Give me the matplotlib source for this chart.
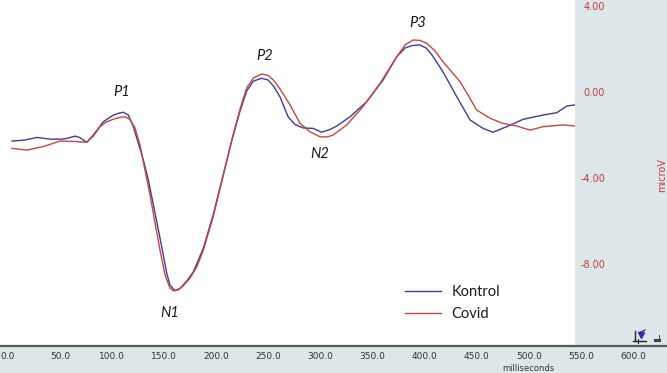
import matplotlib
matplotlib.use("Agg")
import matplotlib.pyplot as plt
from matplotlib.lines import Line2D

# ---- data ----
kontrol_t = [3.9, 16.4, 27.9, 40.4, 51.9, 56.7, 64.4, 69.2, 75.6, 82.0, 91.6, 101.2,
             106.0, 110.8, 115.6, 120.4, 125.2, 130.0, 134.8, 141.2, 147.6, 152.4,
             155.6, 160.4, 165.2, 171.6, 178.0, 187.6, 197.2, 206.8, 214.8, 222.8,
             229.2, 235.6, 243.6, 249.7, 254.8, 261.2, 268.9, 275.6, 283.3, 292.9,
             301.2, 309.2, 315.6, 328.4, 344.4, 360.1, 373.2, 381.2, 387.9, 395.6,
             401.3, 407.1, 417.6, 430.8, 443.6, 456.0, 465.6, 478.8, 494.4, 513.6,
             526.8, 536.4, 544.3]
kontrol_v = [-2.28, -2.23, -2.11, -2.19, -2.19, -2.16, -2.05, -2.12, -2.34, -2.00, -1.38, -1.07,
             -0.99, -0.94, -1.07, -1.61, -2.39, -3.16, -4.09, -5.63, -7.19, -8.42,
             -8.98, -9.24, -9.13, -8.79, -8.36, -7.26, -5.67, -3.81, -2.28, -0.88,
             0.05, 0.51, 0.64, 0.56, 0.28, -0.23, -1.15, -1.51, -1.67, -1.69,
             -1.87, -1.74, -1.58, -1.15, -0.45, 0.56, 1.64, 2.05, 2.16, 2.19,
             2.05, 1.72, 0.94, -0.22, -1.30, -1.69, -1.87, -1.61, -1.27, -1.07,
             -0.96, -0.65, -0.60]

covid_t = [3.9, 18.0, 33.7, 50.0, 64.4, 75.6, 82.0, 88.4, 94.2, 100.9, 106.6, 112.4,
           117.2, 122.0, 126.8, 131.6, 136.4, 141.2, 146.0, 150.8, 155.6, 158.5,
           163.3, 168.1, 174.8, 181.2, 187.6, 197.2, 206.8, 214.8, 222.8, 229.2,
           235.6, 243.6, 249.7, 254.8, 261.2, 270.8, 280.4, 290.0, 299.6, 306.3,
           312.1, 325.2, 340.8, 357.2, 373.2, 381.2, 388.9, 395.6, 402.0, 410.0,
           417.6, 434.0, 441.6, 450.0, 462.8, 475.2, 488.4, 501.2, 513.6, 532.8, 544.3]
covid_v = [-2.62, -2.70, -2.54, -2.28, -2.30, -2.34, -2.05, -1.61, -1.40, -1.27, -1.19, -1.15,
           -1.28, -1.67, -2.47, -3.63, -4.79, -6.09, -7.35, -8.51, -9.12, -9.24,
           -9.21, -9.02, -8.65, -8.14, -7.35, -5.77, -3.86, -2.23, -0.79, 0.19,
           0.65, 0.84, 0.77, 0.56, 0.14, -0.60, -1.46, -1.85, -2.08, -2.09,
           -2.00, -1.53, -0.68, 0.40, 1.64, 2.19, 2.42, 2.40, 2.27, 1.91,
           1.41, 0.48, -0.14, -0.84, -1.22, -1.46, -1.58, -1.77, -1.61, -1.53, -1.58]

series_names = ["Kontrol", "Covid"]
peak_labels = ["P1", "N1", "P2", "N2", "P3"]
peak_t = [109.5, 155.6, 246.8, 299.6, 393.6]
peak_v = [0.0, -10.28, 1.67, -2.88, 3.21]

x_ticks = [0, 50, 100, 150, 200, 250, 300, 350, 400, 450, 500, 550, 600]
x_tick_labels = ["0.0", "50.0", "100.0", "150.0", "200.0", "250.0", "300.0",
                 "350.0", "400.0", "450.0", "500.0", "550.0", "600.0"]
y_ticks = [4, 0, -4, -8]
y_tick_labels = ["4.00", "0.00", "-4.00", "-8.00"]

# ---- styling ----
W, H = 667, 373
BG = "#dde6e8"
BLUE = "#3c3c9c"
RED = "#c8463e"
YRED = "#c43c3c"

fig = plt.figure(figsize=(W / 100, H / 100), dpi=100)
fig.patch.set_facecolor(BG)

# main plot area (white)
ax = fig.add_axes([0, 27 / H, 575 / W, 346 / H])
ax.set_facecolor("white")
ax.set_xlim(-7.6, 544.3)
ax.set_ylim(-11.81, 4.28)
for s in ax.spines.values():
    s.set_visible(False)
ax.set_xticks([])

ax.plot(kontrol_t, kontrol_v, color=BLUE, lw=1.0, label=series_names[0])
ax.plot(covid_t, covid_v, color=RED, lw=1.0, label=series_names[1])

for lab, t, v in zip(peak_labels, peak_t, peak_v):
    ax.text(t, v, lab, fontsize=10.5, style="italic", family=["Lato", "DejaVu Sans"],
            color="#1a1a1a", ha="center", va="center")

# y axis on the right, red labels in grey panel
ax.yaxis.tick_right()
ax.set_yticks(y_ticks)
ax.set_yticklabels(y_tick_labels)
ax.tick_params(axis="y", length=0, pad=21.6, labelsize=7, labelcolor=YRED)
for lbl in ax.get_yticklabels():
    lbl.set_ha("right")

leg = ax.legend(loc="upper left", bbox_to_anchor=(405 / 575, 1 - 285 / 346),
                frameon=False, prop={"family": "Lato", "size": 10.5},
                handlelength=2.5, handletextpad=0.7, labelspacing=0.55,
                borderpad=0, borderaxespad=0)
for txt in leg.get_texts():
    txt.set_color("#1a1a1a")

fig.text(662 / W, 1 - 175 / H, "microV", rotation=90, ha="center", va="center",
         fontsize=7, color=YRED)

# bottom axis strip
axb = fig.add_axes([0, 0, 1, 27 / H])
axb.set_facecolor(BG)
axb.set_xlim(-7.6, 632.7)
axb.set_ylim(0, 1)
axb.set_xticks([])
axb.set_yticks([])
for k, s in axb.spines.items():
    s.set_visible(k == "top")
axb.spines["top"].set_color("#5a5a5a")
axb.spines["top"].set_linewidth(1.6)
for t, lab in zip(x_ticks, x_tick_labels):
    axb.text(t, 0.62, lab, ha="center", va="center", fontsize=6.5, color="#333333")
axb.text(500, 0.17, "milliseconds", ha="center", va="center", fontsize=6, color="#333333")

# small toolbar icons in the corner
def px(x, y):
    return (x / W, 1 - y / H)

fig.add_artist(Line2D(*zip(px(635, 331), px(635, 341)), color="#222", lw=1.0))
fig.add_artist(Line2D(*zip(px(633, 341), px(646, 341)), color="#222", lw=1.0))
fig.add_artist(Line2D(*zip(px(638, 339), px(638, 343)), color="#222", lw=0.8))
fig.add_artist(Line2D([641 / W], [1 - 335 / H], marker="v", markersize=4,
                      color="#2a2ad0", lw=0))
fig.add_artist(Line2D(*zip(px(639, 333), px(645, 330)), color="#222", lw=0.8))
fig.add_artist(Line2D(*zip(px(655, 339.5), px(659, 339.5)), color="#444", lw=2.2))
fig.add_artist(Line2D(*zip(px(658.5, 339), px(658.5, 335)), color="#444", lw=0.7))

fig.savefig("out.png", dpi=100, facecolor=BG)
